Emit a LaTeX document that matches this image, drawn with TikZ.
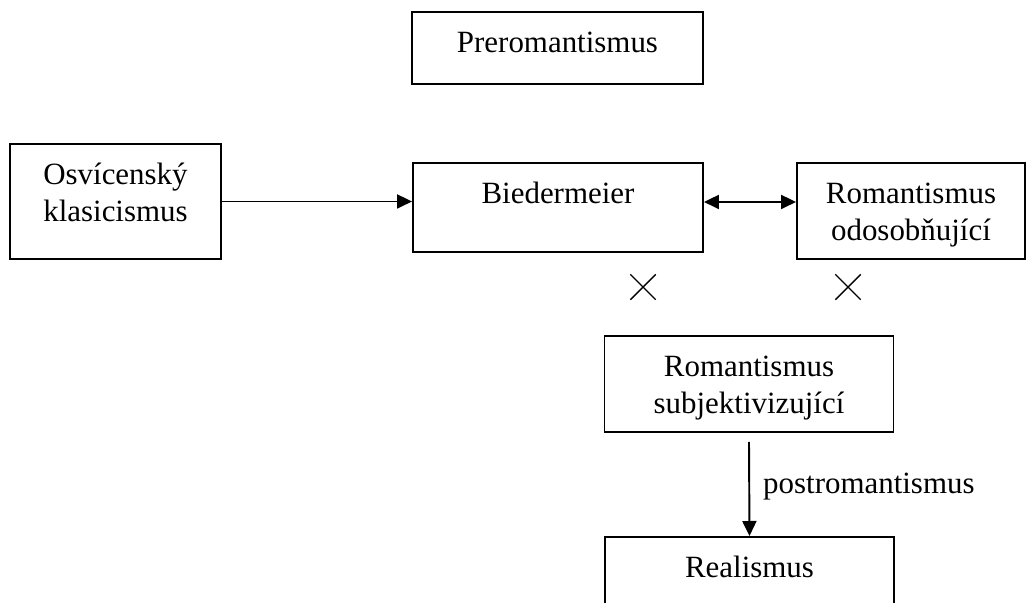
\documentclass[tikz,border=0pt]{standalone}
\usepackage{fontspec}
\setmainfont{Liberation Serif}
\usetikzlibrary{arrows.meta, shapes.misc}

\tikzset{
  obdobi/.style={draw, line width=1.1pt, anchor=north, inner xsep=0pt, inner ysep=0pt,
    align=center, text height=0.81cm, font=\fontsize{17.6pt}{21pt}\selectfont},
  sipka/.style={line width=1.1pt},
  krizek/.style={cross out, draw, line width=0.8pt, inner sep=0pt, minimum size=0.48cm}
}

\begin{document}
\begin{tikzpicture}[>={Triangle[length=0.3cm,width=0.28cm]}]
    \clip (0,0) rectangle (20.54,-12.06);

    % Horni radek
    \node[obdobi, text width=5.82cm, text depth=0.63cm] (pre) at (11.15,-0.22) {Preromantismus};

    % Prostredni radek
    \node[obdobi, text width=4.22cm, text depth=1.49cm] (osv) at (2.31,-2.86) {Osvícenský\\klasicismus};
    \node[obdobi, text width=5.80cm, text depth=0.97cm] (bied) at (11.16,-3.24) {Biedermeier};
    \node[obdobi, text width=4.56cm, text depth=1.11cm] (rom) at (18.22,-3.24) {Romantismus\\odosobňující};

    % Krizky
    \node[krizek] (x1) at (12.86,-5.74) {};
    \node[krizek] (x2) at (16.96,-5.74) {};

    % Spodni cast
    \node[obdobi, text width=5.78cm, text depth=1.11cm] (subj) at (14.98,-6.70) {Romantismus\\subjektivizující};
    \node[obdobi, text width=5.78cm, text depth=1.11cm] (real) at (14.99,-10.72) {Realismus};

    % Sipky
    \draw[sipka, ->] (osv.east) -- (osv.east -| bied.west);
    \draw[sipka, <->] ([yshift=0.11cm]bied.east) -- ([yshift=0.11cm]bied.east -| rom.west);
    \draw[sipka, ->] ([yshift=-0.18cm]subj.south) -- (real.north)
        node[midway, right=0.26cm, yshift=0.05cm, inner sep=0pt, font=\fontsize{17.6pt}{21pt}\selectfont] (post) {postromantismus};
\end{tikzpicture}
\end{document}
